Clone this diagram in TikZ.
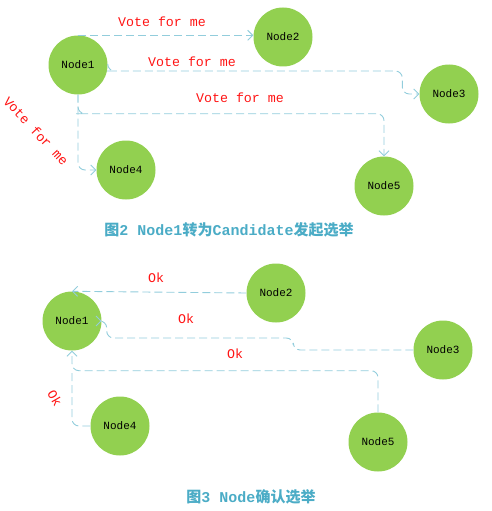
\documentclass[tikz,border=0pt]{standalone}
\usepackage{fontspec}
\setmonofont{Liberation Mono}
\newfontfamily\cjk{Noto Sans CJK SC}
\usepackage{xcolor}
\usetikzlibrary{positioning,arrows.meta,calc}
\definecolor{raftgreen}{RGB}{146,208,80}
\definecolor{raftline}{RGB}{146,205,220}
\definecolor{raftred}{RGB}{255,20,20}
\definecolor{captblue}{RGB}{75,172,198}
\tikzset{
  raftnode/.style={circle, fill=raftgreen, minimum size=59pt, inner sep=0pt,
                   font=\ttfamily\fontsize{11}{13}\selectfont},
  link/.style={-{Straight Barb[length=5pt,width=10pt]}, raftline, line width=0.9pt,
               dash pattern=on 8pt off 4pt, rounded corners=7pt},
  plain/.style={raftline, line width=0.9pt, dash pattern=on 8pt off 4pt, rounded corners=7pt},
  msg/.style={text=raftred, font=\ttfamily\fontsize{13.3}{15}\selectfont, inner sep=0pt},
  capt/.style={text=captblue, font=\ttfamily\bfseries\fontsize{15}{17}\selectfont, inner sep=0pt}
}
\begin{document}
\begin{tikzpicture}[x=1pt, y=-1pt]
\useasboundingbox (0,0) rectangle (492,511);
% Node1 becomes candidate
\node[raftnode] (n1) at (78,65)  {Node1};
\node[raftnode] (n2) at (283,37) {Node2};
\node[raftnode] (n3) at (449,94) {Node3};
\node[raftnode] (n4) at (126,170) {Node4};
\node[raftnode] (n5) at (384,186) {Node5};
\draw[link] (n1.north) -- (n1.north -| n2.west);
\draw[link] (n1.east) |- ($(n1.east)+(5,6)$) -| ($(n3.west)+(-17,0)$) -- (n3.west);
\draw[link] (n1.south) |- ($(n1.south)+(5,19)$) -| (n5.north);
\draw[link] (n1.south) |- (n4.west);
\node[msg] (v2) at (162,22) {Vote for me};
\node[msg] (v3) at (192,62) {Vote for me};
\node[msg] (v5) at (240,98) {Vote for me};
\node[msg, rotate=-47] (v4) at (36,131) {Vote for me};
\node[capt] (c1) at (229,230) {{\cjk 图}2 Node1{\cjk 转为}Candidate{\cjk 发起选举}};
% nodes confirm
\node[raftnode] (m1) at (72,321)  {Node1};
\node[raftnode] (m2) at (276,293) {Node2};
\node[raftnode] (m3) at (443,350) {Node3};
\node[raftnode] (m4) at (120,426) {Node4};
\node[raftnode] (m5) at (378,442) {Node5};
\draw[link] (m2.west) -- (m1.north);
\draw[link] (m3.west) -- ($(m3.west)+(-120,0)$) |- ($(m1.east)+(5,17)$) |- (m1.east);
\draw[link] (m5.north) |- ($(m1.south)+(0,20)$) -- (m1.south);
\draw[plain] (m4.west) -| ($(m1.south)+(0,20)$);
\node[msg] (k2) at (156,278) {Ok};
\node[msg] (k3) at (186,319) {Ok};
\node[msg] (k5) at (235,354) {Ok};
\node[msg, rotate=-60] (k4) at (55,398) {Ok};
\node[capt] (c2) at (251,497) {{\cjk 图}3 Node{\cjk 确认选举}};
\end{tikzpicture}
\end{document}
